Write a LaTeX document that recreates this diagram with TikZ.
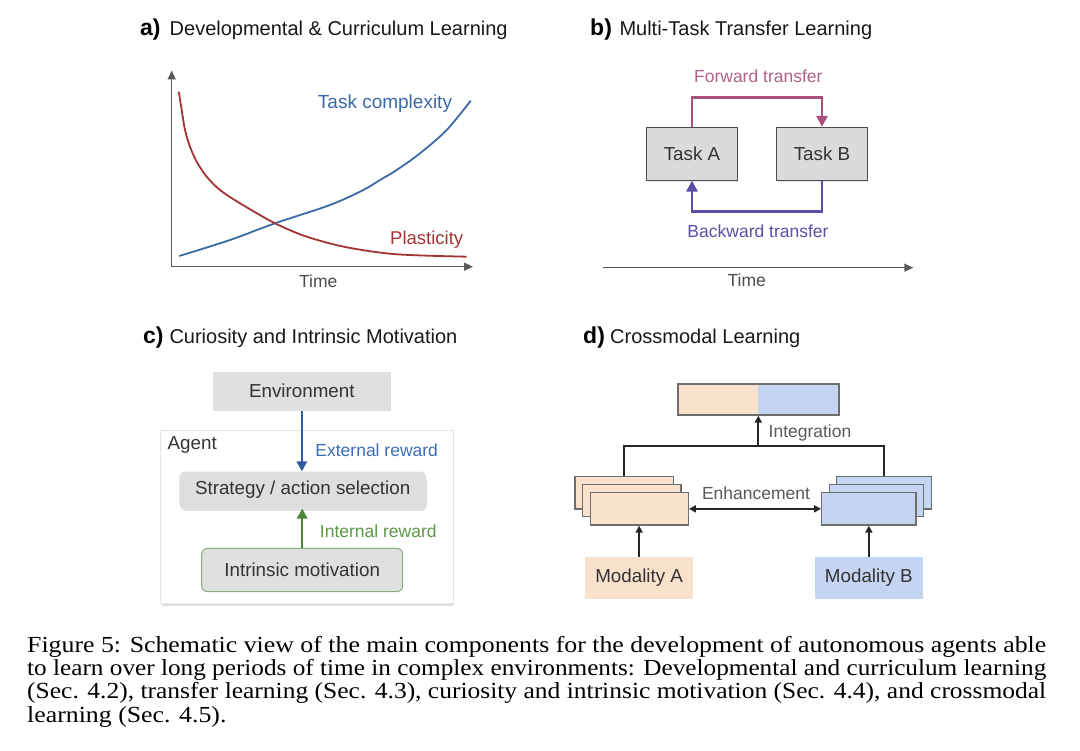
\documentclass[tikz,border=0pt]{standalone}
\usepackage{fontspec}
\setmainfont{Liberation Sans}
\newfontfamily\capfont{Liberation Serif}
\usetikzlibrary{arrows.meta,shadows,calc}
\definecolor{txt}{HTML}{333333}
\definecolor{axisc}{HTML}{5A5A5A}
\definecolor{cblue}{HTML}{3A6AA6}
\definecolor{cred}{HTML}{A33434}
\definecolor{fwdc}{HTML}{A9507C}
\definecolor{fwdt}{HTML}{B0628A}
\definecolor{bwdc}{HTML}{5E4DA6}
\definecolor{extc}{HTML}{2F5D9E}
\definecolor{extt}{HTML}{3F6DB3}
\definecolor{intc}{HTML}{4E8438}
\definecolor{intt}{HTML}{5C9848}
\definecolor{motb}{HTML}{8DAA80}
\definecolor{peach}{HTML}{F9E2CB}
\definecolor{lblue}{HTML}{C5D5F1}
\definecolor{boxb}{HTML}{6E6E6E}
\newsavebox\capbox
\newlength\capw
\newcommand\capset{\capfont\fontsize{23}{23}\selectfont}
\begin{document}
\sbox\capbox{\capset Figure 5: Schematic view of the main components for the development of autonomous agents able}%
\setlength\capw{\wd\capbox}%
\pgfmathsetmacro\capsx{1019/\capw}%
\begin{tikzpicture}[x=1pt,y=-1pt,
  every node/.style={text=txt},
  ttl/.style={anchor=base west, inner sep=0, font=\fontsize{20}{24}\selectfont, text=black!90},
  tletter/.style={anchor=base west, inner sep=0, font=\bfseries\fontsize{23}{24}\selectfont, text=black},
  lbl/.style={inner sep=0, font=\fontsize{17.5}{20}\selectfont},
  btxt/.style={font=\fontsize{18.8}{22}\selectfont},
  axisarrow/.style={draw=axisc, line width=1.5pt, -{Triangle[width=8pt,length=9pt]}},
  taskbox/.style={btxt, draw=black!70, fill=black!14, line width=1pt, minimum width=90.6pt, minimum height=52.7pt, inner sep=0, drop shadow={opacity=0.18, shadow xshift=1pt, shadow yshift=-2pt}},
  transfer/.style={line width=2.6pt, -{Triangle[width=11pt,length=11pt]}},
  stackbox/.style={draw=boxb, line width=1.3pt, inner sep=0, minimum height=32.3pt},
  darr/.style={line width=1.8pt, -{Triangle[width=7pt,length=7pt]}},
  captionline/.style={anchor=base west, inner sep=0, text=black},
  ]
\useasboundingbox[fill=white] (0,0) rectangle (1080,751);

% ---------- panel a ----------
\node[tletter] (ta) at (140,36) {a)};
\node[ttl] (tat) at (169.5,36) {Developmental \& Curriculum Learning};
\coordinate (ao) at (171.7,266.7);
\coordinate (ay) at (171.7,70.5);
\coordinate (ax) at (473,266.7);
\draw[axisarrow] (ao) -- (ay);
\draw[axisarrow] (ao) -- (ax);
\draw[cblue, line width=1.8pt] plot[smooth, tension=0.55] coordinates {(179.3,256) (230,240) (275,223.3) (330,205) (363.3,190) (380,180) (396.7,170) (420,153.3) (446.7,130) (470.7,100.7)};
\draw[cred, line width=1.8pt] plot[smooth, tension=0.5] coordinates {(178.8,91.7) (181.7,110) (185,130) (190,146.7) (196.7,161.7) (206.7,176.7) (220,190) (240,203.3) (275,223.3) (306.7,236.7) (346.7,247.3) (396.7,254.3) (466.7,256.7)};
\node[lbl, text=cblue, font=\fontsize{19}{22}\selectfont] (tc) at (385,103.3) {Task complexity};
\node[lbl, text=cred, font=\fontsize{18.5}{22}\selectfont] (pl) at (426.7,239.3) {Plasticity};
\node[lbl, text=black!70, font=\fontsize{17.5}{20}\selectfont] (tma) at (318.3,281) {Time};

% ---------- panel b ----------
\node[tletter] (tb) at (590,36) {b)};
\node[ttl] (tbt) at (619.3,36) {Multi-Task Transfer Learning};
\node[taskbox] (taskA) at (692,153.7) {Task A};
\node[taskbox] (taskB) at (822,153.7) {Task B};
\draw[transfer, fwdc] (taskA.north) -- ++(0,-29.6) -| (taskB.north);
\draw[transfer, bwdc] (taskB.south) -- ++(0,30.7) -| (taskA.south);
\node[lbl, text=fwdt] (fwdl) at (758.3,76.7) {Forward transfer};
\node[lbl, text=bwdc] (bwdl) at (758,231.7) {Backward transfer};
\coordinate (tb0) at (603.3,267.7);
\coordinate (tb1) at (913.3,267.7);
\draw[axisarrow] (tb0) -- (tb1);
\node[lbl, text=black!70] (tmb) at (746.7,280.5) {Time};

% ---------- panel c ----------
\node[tletter] (tcc) at (143,343.3) {c)};
\node[ttl] (tct) at (169.3,343.3) {Curiosity and Intrinsic Motivation};
\node[draw=black!10, fill=white, minimum width=292.7pt, minimum height=173pt, inner sep=0,
      drop shadow={opacity=0.25, shadow xshift=1.5pt, shadow yshift=-2.5pt}] (agent) at (306.35,516.5) {};
\node[btxt, fill=black!12, minimum width=178.3pt, minimum height=39pt, inner sep=0] (env) at (301.85,391.2) {Environment};
\node[btxt, anchor=west, inner sep=0] (agl) at (167.5,445) {Agent};
\node[btxt, fill=black!13, rounded corners=5pt, minimum width=246.7pt, minimum height=36.6pt, inner sep=0,
      drop shadow={opacity=0.22, shadow xshift=1pt, shadow yshift=-2.5pt}] (strat) at (302.65,490) {Strategy / action selection};
\node[btxt, fill=black!12, draw=motb, line width=1pt, rounded corners=6pt, minimum width=201pt, minimum height=43.4pt, inner sep=0] (motiv) at (302.2,570) {Intrinsic motivation};
\draw[extc, line width=2.4pt, -{Triangle[width=10pt,length=10pt]}] (env.south) -- (env.south |- strat.north);
\draw[intc, line width=2.4pt, -{Triangle[width=10pt,length=10pt]}] (motiv.north) -- (motiv.north |- strat.south);
\node[lbl, text=extt] (extl) at (376.7,450) {External reward};
\node[lbl, text=intt] (intl) at (378.3,531) {Internal reward};

% ---------- panel d ----------
\node[tletter] (td) at (583,343.3) {d)};
\node[ttl] (tdt) at (610,343.3) {Crossmodal Learning};
\node[draw=boxb, line width=1.3pt, minimum width=160pt, minimum height=31pt, inner sep=0, fill=lblue,
      path picture={\fill[peach] (path picture bounding box.south west) rectangle (path picture bounding box.north);}] (intbar) at (758.3,399.5) {};
\draw[boxb, line width=1.3pt] (intbar.south west) rectangle (intbar.north east);
\node[stackbox, fill=peach, minimum width=98.3pt] (stA1) at (624.15,492.85) {};
\node[stackbox, fill=peach, minimum width=98.3pt] (stA2) at (631.7,500.5) {};
\node[stackbox, fill=peach, minimum width=97.6pt] (stA3) at (639.5,508.85) {};
\node[stackbox, fill=lblue, minimum width=95pt] (stB1) at (884.2,492.85) {};
\node[stackbox, fill=lblue, minimum width=94.3pt] (stB2) at (876.3,500.5) {};
\node[stackbox, fill=lblue, minimum width=94.3pt] (stB3) at (868.85,508.85) {};
\coordinate (junc) at (758.3,446);
\draw[black!85, line width=1.8pt] (stA1.north) |- (junc) -| (stB1.north);
\draw[darr, black!85] (junc) -- (intbar.south);
\draw[black!85, line width=1.8pt, {Triangle[width=7pt,length=7pt]}-{Triangle[width=7pt,length=7pt]}] (stA3.east) -- (stB3.west);
\node[btxt, fill=peach, minimum width=108.3pt, minimum height=42.6pt, inner sep=0] (modA) at (639.15,578) {Modality A};
\node[btxt, fill=lblue, minimum width=107.7pt, minimum height=42.6pt, inner sep=0] (modB) at (868.85,578) {Modality B};
\draw[darr, black!85] (modA.north) -- (modA.north |- stA3.south);
\draw[darr, black!85] (modB.north) -- (modB.north |- stB3.south);
\node[lbl, text=black!65] (enh) at (756,493.3) {Enhancement};
\node[lbl, text=black!65] (integ) at (810,432.7) {Integration};

% ---------- caption ----------
\node[captionline] (cap1) at (27,652) {\resizebox{1019pt}{\height}{\usebox\capbox}};
\node[captionline] (cap2) at (27,675.3) {\resizebox{1019pt}{\height}{\capset to learn over long periods of time in complex environments: Developmental and curriculum learning}};
\node[captionline] (cap3) at (27,698.6) {\resizebox{1019pt}{\height}{\capset (Sec. 4.2), transfer learning (Sec. 4.3), curiosity and intrinsic motivation (Sec. 4.4), and crossmodal}};
\node[captionline] (cap4) at (27,722) {\scalebox{\capsx}[1]{\capset learning (Sec. 4.5).}};
\end{tikzpicture}
\end{document}
